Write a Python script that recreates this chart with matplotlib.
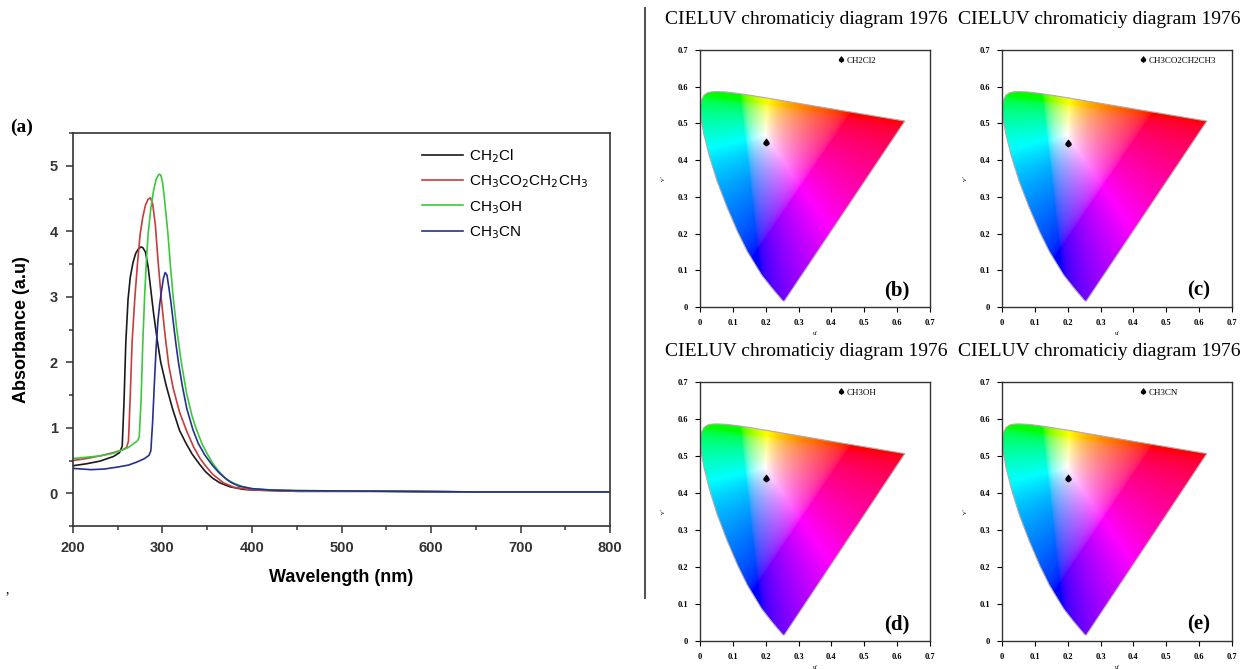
import matplotlib
matplotlib.use("Agg")
import matplotlib.pyplot as plt
import numpy as np
from matplotlib.patches import Polygon
from matplotlib.lines import Line2D
from matplotlib.ticker import MultipleLocator

# ---- absorbance spectra (a) ----
wl_ch2cl = [200, 215, 230, 245, 252, 255, 257, 259, 261.5, 264, 267, 270, 273, 276, 278, 281, 284, 287,
            290, 294, 298, 304, 311, 319, 326, 333, 341, 348, 356, 364, 375, 390, 400, 450, 550, 650, 800]
abs_ch2cl = [0.42, 0.45, 0.49, 0.56, 0.62, 0.72, 1.40, 2.30, 2.96, 3.30, 3.52, 3.66, 3.73, 3.76, 3.75, 3.68, 3.45, 3.10,
             2.75, 2.35, 2.00, 1.65, 1.30, 0.96, 0.77, 0.60, 0.45, 0.33, 0.23, 0.16, 0.10, 0.06, 0.05, 0.03, 0.03, 0.02, 0.02]

wl_etac = [200, 215, 230, 245, 255, 260, 262, 264, 266, 269, 272, 275, 278, 281, 284, 286.5, 289, 292,
           295, 299, 303, 307, 312, 319, 327, 335, 342, 348, 356, 368, 380, 400, 450, 550, 650, 800]
abs_etac = [0.50, 0.53, 0.57, 0.62, 0.66, 0.70, 0.80, 1.50, 2.30, 2.96, 3.50, 3.95, 4.22, 4.40, 4.49, 4.51, 4.42, 4.10,
            3.55, 2.92, 2.40, 1.95, 1.60, 1.24, 0.95, 0.70, 0.53, 0.42, 0.29, 0.16, 0.09, 0.05, 0.03, 0.03, 0.02, 0.02]

wl_meoh = [200, 215, 230, 245, 255, 262, 268, 272, 274, 276, 278, 280, 282, 284, 287, 290, 293, 296, 298, 300,
           302, 304, 306, 309, 312, 316, 321, 327, 333, 338, 344, 350, 357, 365, 372, 380, 390, 400, 420, 450,
           550, 650, 800]
abs_meoh = [0.53, 0.55, 0.57, 0.61, 0.66, 0.70, 0.76, 0.80, 0.86, 1.40, 2.30, 3.00, 3.55, 3.97, 4.35, 4.62, 4.80, 4.87,
            4.86, 4.75, 4.52, 4.25, 3.97, 3.45, 2.98, 2.50, 2.00, 1.52, 1.18, 0.97, 0.76, 0.60, 0.44, 0.30, 0.21,
            0.15, 0.10, 0.07, 0.05, 0.04, 0.03, 0.02, 0.02]

wl_mecn = [200, 210, 220, 235, 250, 262, 272, 280, 285, 287, 289, 291, 293, 295, 297, 299, 301, 303, 305, 307,
           309, 312, 315, 318, 322, 327, 334, 340, 347, 355, 362, 370, 376, 385, 400, 420, 450, 550, 650, 800]
abs_mecn = [0.38, 0.37, 0.36, 0.37, 0.40, 0.43, 0.48, 0.53, 0.58, 0.65, 1.10, 1.70, 2.25, 2.65, 2.90, 3.10, 3.28, 3.37,
            3.33, 3.15, 2.96, 2.62, 2.28, 1.98, 1.65, 1.30, 0.97, 0.76, 0.59, 0.44, 0.33, 0.23, 0.17, 0.11, 0.07,
            0.05, 0.04, 0.03, 0.02, 0.02]

series_labels = [r'CH$_2$Cl', r'CH$_3$CO$_2$CH$_2$CH$_3$', r'CH$_3$OH', r'CH$_3$CN']
series_colors = ['#1a1a1a', '#c83c3c', '#3cc83c', '#26308e']

# ---- CIE 1976 u'v' panels (b)-(e) ----
locus_u = [0.2568, 0.2558, 0.2522, 0.2347, 0.2161, 0.1877, 0.1441, 0.1147, 0.0828, 0.0521, 0.0282, 0.0119,
           0.0035, 0.0014, 0.0046, 0.0123, 0.0231, 0.0360, 0.0501, 0.0792, 0.1127, 0.1531, 0.2026, 0.2623,
           0.3315, 0.4035, 0.4692, 0.5203, 0.5565, 0.5830, 0.6005, 0.6234]
locus_v = [0.0166, 0.0159, 0.0169, 0.0350, 0.0549, 0.0871, 0.1510, 0.2044, 0.2708, 0.3427, 0.4117, 0.4698,
           0.5131, 0.5432, 0.5638, 0.5770, 0.5837, 0.5861, 0.5868, 0.5856, 0.5821, 0.5766, 0.5694, 0.5604,
           0.5501, 0.5393, 0.5296, 0.5219, 0.5165, 0.5125, 0.5099, 0.5065]

solvents = ['CH2Cl2', 'CH3CO2CH2CH3', 'CH3OH', 'CH3CN']
point_u = [0.20, 0.20, 0.20, 0.20]
point_v = [0.450, 0.446, 0.440, 0.440]
panel_tags = ['(b)', '(c)', '(d)', '(e)']

W, H = 1244, 669
fig = plt.figure(figsize=(W / 100, H / 100), dpi=100)


def rect(l, r, t, b):
    return [l / W, 1 - b / H, (r - l) / W, (b - t) / H]


# ---------- panel (a) ----------
ax = fig.add_axes(rect(73, 610, 133, 526))
data = [(wl_ch2cl, abs_ch2cl), (wl_etac, abs_etac), (wl_meoh, abs_meoh), (wl_mecn, abs_mecn)]
for (x, y), lab, c in zip(data, series_labels, series_colors):
    ax.plot(x, y, color=c, lw=1.2, label=lab)
ax.set_xlim(200, 800)
ax.set_ylim(-0.5, 5.5)
ax.xaxis.set_major_locator(MultipleLocator(100))
ax.xaxis.set_minor_locator(MultipleLocator(50))
ax.yaxis.set_major_locator(MultipleLocator(1))
ax.yaxis.set_minor_locator(MultipleLocator(0.5))
ax.tick_params(which='both', direction='out', colors='#333333', width=1.1)
ax.tick_params(which='major', length=5, labelsize=10.5, pad=6)
ax.tick_params(which='minor', length=3)
for lbl in ax.get_xticklabels() + ax.get_yticklabels():
    lbl.set_fontweight('bold')
    lbl.set_fontfamily('Liberation Sans')
for sp in ax.spines.values():
    sp.set_color('#333333')
    sp.set_linewidth(1.2)
ax.set_xlabel('Wavelength (nm)', fontsize=13, fontweight='bold', family='Liberation Sans', labelpad=10)
ax.set_ylabel('Absorbance (a.u)', fontsize=13, fontweight='bold', family='Liberation Sans', labelpad=14)
leg = ax.legend(loc='upper left', bbox_to_anchor=(0.63, 0.99), frameon=False, handlelength=2.7,
                handletextpad=0.4, labelspacing=0.55, borderaxespad=0.3,
                prop={'family': 'Liberation Sans', 'size': 11})

fig.text(10 / W, 1 - 127 / H, '(a)', fontsize=14, fontweight='bold', family='Liberation Serif', va='center')
fig.text(6 / W, 1 - 590 / H, ',', fontsize=10, family='Liberation Serif', va='center')
fig.add_artist(Line2D([645 / W, 645 / W], [1 - 8 / H, 1 - 598 / H], color='#555555', lw=1.5))

# colour field for the chromaticity diagram
n = 400
uu, vv = np.meshgrid(np.linspace(0, 0.7, n), np.linspace(0, 0.7, n))
den = 6 * uu - 16 * vv + 12
xc = 9 * uu / den
yc = np.maximum(4 * vv / den, 1e-4)
X = xc / yc
Z = (1 - xc - yc) / yc
M = np.array([[3.2406, -1.5372, -0.4986], [-0.9689, 1.8758, 0.0415], [0.0557, -0.2040, 1.0570]])
rgb = np.stack([M[i, 0] * X + M[i, 1] + M[i, 2] * Z for i in range(3)], axis=-1)
rgb = np.clip(rgb, 0, None)
rgb = rgb / np.maximum(rgb.max(axis=-1, keepdims=True), 1e-6)
rgb = rgb ** (1 / 2.2)

cie_rects = [rect(700, 930, 50, 307), rect(1002, 1232, 50, 307),
             rect(700, 930, 382, 641), rect(1002, 1232, 382, 641)]
title_pos = [(806, 19), (1099, 19), (806, 352), (1099, 352)]
ticks = [0, 0.1, 0.2, 0.3, 0.4, 0.5, 0.6, 0.7]
tick_lbls = ['0', '0.1', '0.2', '0.3', '0.4', '0.5', '0.6', '0.7']

for i in range(4):
    cx = fig.add_axes(cie_rects[i])
    im = cx.imshow(rgb, extent=[0, 0.7, 0, 0.7], origin='lower', aspect='auto', interpolation='bilinear')
    poly = Polygon(np.column_stack([locus_u, locus_v]), closed=True, transform=cx.transData)
    im.set_clip_path(poly)
    cx.add_patch(Polygon(np.column_stack([locus_u, locus_v]), closed=True, fill=False,
                         edgecolor='#b8a8a8', lw=0.8))
    cx.plot([point_u[i]], [point_v[i]], ls='none', marker=r'$\spadesuit$', ms=4.5, color='black',
            label=solvents[i])
    cx.legend(loc='upper left', bbox_to_anchor=(0.575, 1.0), frameon=False, handlelength=0.6,
              handletextpad=0.3, borderaxespad=0.3, markerscale=0.8,
              prop={'family': 'Liberation Serif', 'size': 6.5})
    cx.set_xlim(0, 0.7)
    cx.set_ylim(0, 0.7)
    cx.set_xticks(ticks)
    cx.set_xticklabels(tick_lbls)
    cx.set_yticks(ticks)
    cx.set_yticklabels(tick_lbls)
    cx.tick_params(direction='out', length=3.5, width=0.8, labelsize=6, pad=5)
    for lbl in cx.get_xticklabels() + cx.get_yticklabels():
        lbl.set_fontweight('bold')
        lbl.set_fontfamily('Liberation Serif')
    for sp in cx.spines.values():
        sp.set_linewidth(1.0)
        sp.set_color('#333333')
    cx.set_xlabel("u'", fontsize=5, family='Liberation Serif', labelpad=3)
    cx.set_ylabel("v'", fontsize=5, family='Liberation Serif', labelpad=8)
    cx.text(0.855, 0.065, panel_tags[i], transform=cx.transAxes, ha='center', va='center',
            fontsize=15, fontweight='bold', family='Liberation Serif')
    tx, ty = title_pos[i]
    fig.text(tx / W, 1 - ty / H, 'CIELUV chromaticiy diagram 1976', ha='center', va='center',
             fontsize=14, family='Liberation Serif')

fig.savefig('out.png', dpi=100)
